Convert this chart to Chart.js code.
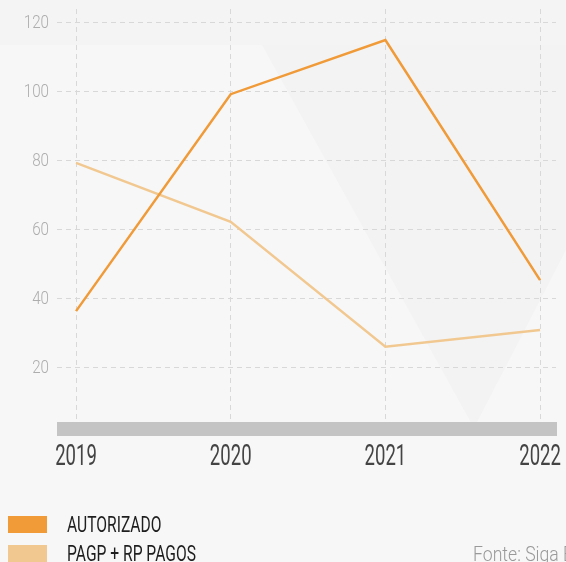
<!DOCTYPE html>
<html>
<head>
<meta charset="utf-8">
<script src="https://cdn.jsdelivr.net/npm/chart.js@4.4.0/dist/chart.umd.min.js"></script>
<style>
    html, body { margin: 0; padding: 0; }
    body { width: 566px; height: 562px; overflow: hidden; background: #f7f7f7; font-family: Roboto, sans-serif; }
    #wrap { position: relative; width: 566px; height: 562px; overflow: hidden; }
    #chart { position: absolute; left: 0; top: 0; }
    .legend-item { position: absolute; left: 8px; height: 18px; }
    .legend-box { position: absolute; left: 0; top: 0; width: 39px; height: 17px; }
    .legend-label { position: absolute; left: 59px; top: -4px; font-size: 22px; line-height: 26px; color: #1e1e1e; white-space: nowrap; transform: scaleX(0.71); transform-origin: left center; }
    #fonte { position: absolute; left: 473px; top: 541px; font-size: 21px; line-height: 26px; font-weight: 300; color: #999999; white-space: nowrap; transform: scaleX(0.84); transform-origin: left center; }
</style>
</head>
<body>
<div id="wrap">
    <canvas id="chart" width="566" height="562"></canvas>
    <div class="legend-item" style="top: 516px;">
        <div class="legend-box" style="background: #f09a38;"></div>
        <div class="legend-label">AUTORIZADO</div>
    </div>
    <div class="legend-item" style="top: 545px;">
        <div class="legend-box" style="background: #f2c891;"></div>
        <div class="legend-label">PAGP + RP PAGOS</div>
    </div>
    <div id="fonte">Fonte: Siga Brasil</div>
</div>
<script>
var year_labels = [2019, 2020, 2021, 2022];
var autorizado_values = [36.2, 99.1, 114.8, 45.2];
var pagos_values = [79.2, 62.1, 25.9, 30.7];
var y_tick_values = [20, 40, 60, 80, 100, 120];

function toPoints(values) {
    var points = [];
    for (var i = 0; i < year_labels.length; i++) {
        points.push({ x: year_labels[i], y: values[i] });
    }
    return points;
}

// draw text squeezed horizontally (the original uses a condensed face)
function drawCondensed(ctx, text, x, y, squeeze, align) {
    ctx.save();
    ctx.translate(x, y);
    ctx.scale(squeeze, 1);
    ctx.textAlign = align;
    ctx.textBaseline = 'middle';
    ctx.fillText(text, 0, 0);
    ctx.restore();
}

// soft background shapes + grey base bar + axis labels
var backdropPlugin = {
    id: 'backdrop',
    beforeDraw: function (chart) {
        var ctx = chart.ctx;
        ctx.save();
        ctx.fillStyle = '#f4f4f4';
        ctx.fillRect(0, 0, 566, 45);
        ctx.fillStyle = '#f3f3f3';
        ctx.beginPath();
        ctx.moveTo(262, 45);
        ctx.lineTo(566, 45);
        ctx.lineTo(566, 250);
        ctx.lineTo(474, 428);
        ctx.closePath();
        ctx.fill();
        ctx.restore();
    },
    beforeDatasetsDraw: function (chart) {
        var ctx = chart.ctx;
        var area = chart.chartArea;
        ctx.save();
        ctx.fillStyle = '#c4c4c4';
        ctx.fillRect(area.left, area.bottom - 14, area.right - area.left + 1, 14);
        ctx.restore();
    },
    afterDraw: function (chart) {
        var ctx = chart.ctx;
        var xScale = chart.scales.x;
        var yScale = chart.scales.y;
        ctx.save();
        ctx.fillStyle = '#444444';
        ctx.font = '400 29px Roboto';
        year_labels.forEach(function (year) {
            drawCondensed(ctx, String(year), xScale.getPixelForValue(year), 458, 0.64, 'center');
        });
        ctx.fillStyle = '#adadad';
        ctx.font = '300 19px Roboto';
        y_tick_values.forEach(function (v) {
            drawCondensed(ctx, String(v), 49, yScale.getPixelForValue(v) + 1, 0.8, 'right');
        });
        ctx.restore();
    }
};

var ctx = document.getElementById('chart');
var LineChart = new Chart(ctx, {
    type: 'line',
    data: {
        datasets: [{
            label: 'AUTORIZADO',
            data: toPoints(autorizado_values),
            borderColor: '#f09a38',
            borderWidth: 2.5,
            pointRadius: 0,
            tension: 0
        }, {
            label: 'PAGP + RP PAGOS',
            data: toPoints(pagos_values),
            borderColor: '#f2c891',
            borderWidth: 2.5,
            pointRadius: 0,
            tension: 0
        }]
    },
    plugins: [backdropPlugin],
    options: {
        responsive: false,
        animation: false,
        layout: {
            padding: { left: 0, right: 10, top: 9, bottom: 0 }
        },
        plugins: {
            legend: { display: false },
            tooltip: { enabled: false }
        },
        scales: {
            x: {
                type: 'linear',
                min: 2018.877,
                max: 2022.103,
                afterBuildTicks: function (scale) {
                    scale.ticks = year_labels.map(function (v) { return { value: v }; });
                },
                afterFit: function (scale) {
                    scale.height = 126;
                },
                border: { display: false, dash: [5, 4] },
                grid: {
                    color: '#d8d8d8',
                    lineWidth: 1,
                    drawTicks: false
                },
                ticks: { display: false }
            },
            y: {
                min: 0,
                max: 123.8,
                afterBuildTicks: function (scale) {
                    scale.ticks = y_tick_values.map(function (v) { return { value: v }; });
                },
                afterFit: function (scale) {
                    scale.width = 57;
                },
                border: { display: false, dash: [5, 4] },
                grid: {
                    color: '#d8d8d8',
                    lineWidth: 1,
                    drawTicks: false
                },
                ticks: { display: false }
            }
        }
    }
});
</script>
</body>
</html>
